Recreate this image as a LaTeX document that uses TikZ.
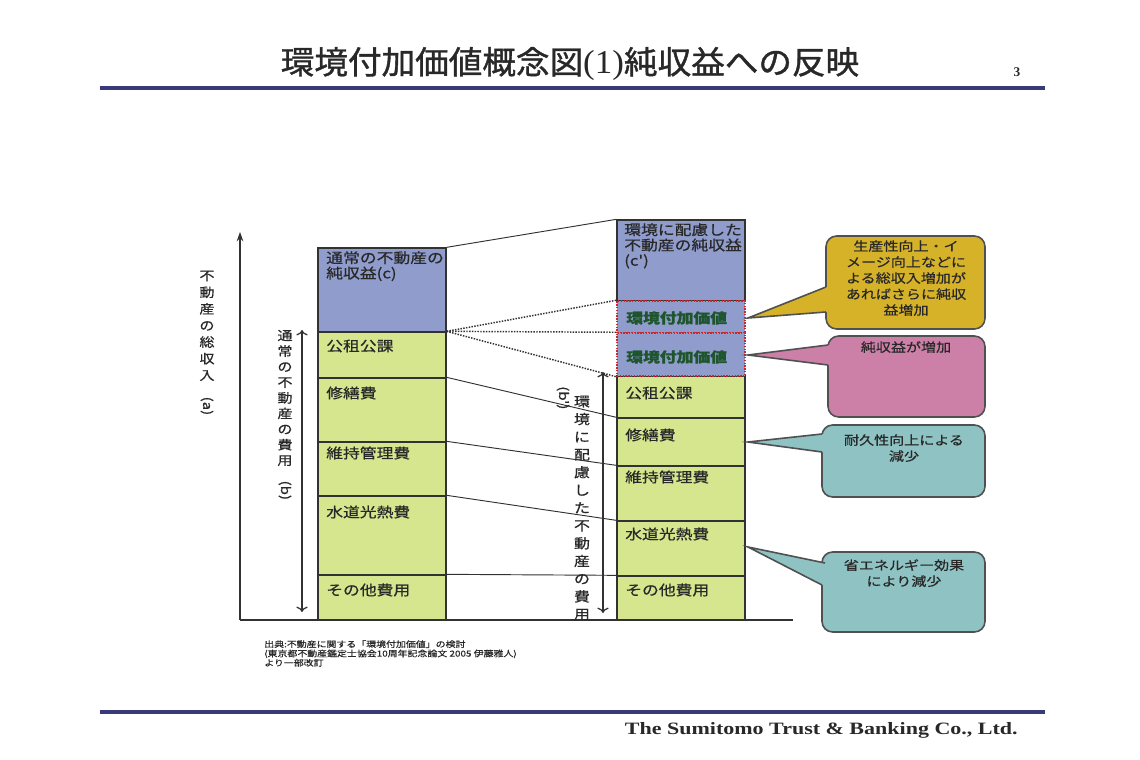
\documentclass[tikz,border=0pt]{standalone}
\usepackage{fontspec}
\setmainfont{Liberation Serif}
\newfontfamily\jp[FakeStretch=1.2,FakeBold=0.6]{Noto Sans CJK JP}
\newfontfamily\jptitle[FakeStretch=1.05,FakeBold=1.2]{Noto Sans CJK JP}
\newfontfamily\ttlserif[FakeStretch=1.05]{Liberation Serif}
\newfontfamily\ftr[FakeStretch=1.27]{Liberation Serif}
\usetikzlibrary{arrows.meta,fit}
\definecolor{navyC}{RGB}{58,58,122}
\definecolor{lineC}{RGB}{50,50,50}
\definecolor{txtC}{RGB}{40,40,40}
\definecolor{blueC}{RGB}{143,156,204}
\definecolor{greenC}{RGB}{214,230,142}
\definecolor{gtxtC}{RGB}{30,85,45}
\definecolor{redC}{RGB}{200,40,40}
\definecolor{goldC}{RGB}{214,178,40}
\definecolor{pinkC}{RGB}{204,128,168}
\definecolor{tealC}{RGB}{143,195,195}
\definecolor{callC}{RGB}{80,80,80}
\tikzset{
  segB/.style={draw=lineC, line width=1pt, fill=blueC, inner sep=0pt},
  segG/.style={draw=lineC, line width=1pt, fill=greenC, inner sep=0pt},
  segV/.style={draw=redC, line width=1.1pt, densely dotted, fill=blueC, inner sep=0pt},
  conn/.style={draw=lineC, line width=0.7pt},
  dconn/.style={draw=lineC, line width=1.1pt, densely dotted},
  axisline/.style={draw=lineC, line width=0.9pt},
  txt/.style={font=\jp\fontsize{10.5}{11.5}\selectfont, text=txtC, inner sep=0pt, anchor=west},
  gtxt/.style={font=\jp\bfseries\fontsize{10.5}{11.5}\selectfont, text=gtxtC, inner sep=0pt, anchor=west},
  callbox/.style={draw=callC, line width=1.2pt, rounded corners=8pt, inner sep=0pt},
  ctxt/.style={font=\jp\fontsize{9.4}{12}\selectfont, align=center, text=txtC, inner sep=0pt, anchor=north},
  vlab/.style={align=center, inner sep=0pt, text=txtC},
  rule/.style={draw=navyC, line width=3pt},
}
\begin{document}
\begin{tikzpicture}[x=0.75pt,y=-0.75pt]
\useasboundingbox[fill=white] (0,0) rectangle (1140,760);

% title and rules
\node[font=\jptitle\fontsize{24}{28}\selectfont, text=txtC, inner sep=0pt] (title) at (570,64) {環境付加価値概念図{\ttlserif\fontsize{25}{28}\selectfont(1)}純収益への反映};
\node[font=\bfseries\fontsize{10}{12}\selectfont, text=txtC, inner sep=0pt] (pageno) at (1017,72) {3};
\coordinate (r1a) at (100,88); \coordinate (r1b) at (1045,88);
\draw[rule] (r1a) -- (r1b);
\coordinate (r2a) at (100,712); \coordinate (r2b) at (1045,712);
\draw[rule] (r2a) -- (r2b);
\node[font=\ftr\bfseries\fontsize{13}{15}\selectfont, text=txtC, inner sep=0pt, anchor=east] (footer) at (1018,730) {The Sumitomo Trust \& Banking Co., Ltd.};

% axes
\coordinate (O) at (240,620); \coordinate (Ytop) at (240,232); \coordinate (Xend) at (793,620);
\draw[axisline, -{Stealth[length=7pt,width=5pt]}] (O) -- (Ytop);
\draw[axisline] (O) -- (Xend);

% left bar
\node[segB, fit={(318,248)(446,332)}] (L0) {};
\node[segG, fit={(318,332)(446,378)}] (L1) {};
\node[segG, fit={(318,378)(446,442)}] (L2) {};
\node[segG, fit={(318,442)(446,496)}] (L3) {};
\node[segG, fit={(318,496)(446,575)}] (L4) {};
\node[segG, fit={(318,575)(446,620)}] (L5) {};

% right bar
\node[segG, fit={(617,376)(745,418)}] (R1) {};
\node[segG, fit={(617,418)(745,466)}] (R2) {};
\node[segG, fit={(617,466)(745,521)}] (R3) {};
\node[segG, fit={(617,521)(745,576)}] (R4) {};
\node[segG, fit={(617,576)(745,620)}] (R5) {};
\node[segB, fit={(617,220)(745,301)}] (R0) {};
\node[segV, fit={(617,301)(745,333)}] (RV1) {};
\node[segV, fit={(617,333)(745,376)}] (RV2) {};

% left bar texts
\node[txt, align=left, anchor=north west] (L0t) at (326,251) {通常の不動産の\\純収益(c)};
\node[txt] (L1t) at (326,346) {公租公課};
\node[txt] (L2t) at (326,393) {修繕費};
\node[txt] (L3t) at (326,453) {維持管理費};
\node[txt] (L4t) at (326,512) {水道光熱費};
\node[txt] (L5t) at (326,590) {その他費用};

% right bar texts
\node[txt, align=left, anchor=north west] (R0t) at (624,223) {環境に配慮した\\不動産の純収益\\(c')};
\node[gtxt] (RV1t) at (626,318) {環境付加価値};
\node[gtxt] (RV2t) at (626,357) {環境付加価値};
\node[txt] (R1t) at (625,393) {公租公課};
\node[txt] (R2t) at (625,435) {修繕費};
\node[txt] (R3t) at (625,477) {維持管理費};
\node[txt] (R4t) at (625,534) {水道光熱費};
\node[txt] (R5t) at (625,590) {その他費用};

% connectors between bars
\draw[conn] (L0.north east) -- (R0.north west);
\draw[dconn] (L1.north east) -- (RV1.north west);
\draw[dconn] (L1.north east) -- (RV2.north west);
\draw[dconn] (L1.north east) -- (RV2.south west);
\draw[conn] (L2.north east) -- (R2.north west);
\draw[conn] (L3.north east) -- (R3.north west);
\draw[conn] (L4.north east) -- (R4.north west);
\draw[conn] (L5.north east) -- (R5.north west);

% inner double arrows
\coordinate (b1t) at (302,330); \coordinate (b1b) at (302,612);
\draw[axisline, {To[length=4pt]}-{To[length=4pt]}] (b1t) -- (b1b);
\coordinate (b2t) at (603,372); \coordinate (b2b) at (603,613);
\draw[axisline, {To[length=4pt]}-{To[length=4pt]}] (b2t) -- (b2b);

% vertical labels
\node[vlab, font=\jp\fontsize{9.4}{12.45}\selectfont] (vA) at (207,343) {不\\動\\産\\の\\総\\収\\入\\\rotatebox{-90}{(a)}};
\node[vlab, font=\jp\fontsize{9.4}{11.7}\selectfont] (vB) at (285,415) {通\\常\\の\\不\\動\\産\\の\\費\\用\\\rotatebox{-90}{(b)}};
\node[vlab, font=\jp\fontsize{10}{13.3}\selectfont] (vC) at (582,508) {環\\境\\に\\配\\慮\\し\\た\\不\\動\\産\\の\\費\\用};
\node[vlab, font=\jp\fontsize{9.4}{12}\selectfont, anchor=north] (vCb) at (563,386) {\rotatebox{-90}{(b')}};

% callout 1 (gold)
\node[callbox, fill=goldC, fit={(826,236)(985,329)}] (C1) {};
\coordinate (C1tip) at (748,318);
\fill[goldC] (C1tip) -- (826,287) -- (831,287) -- (831,312) -- (826,312) -- cycle;
\draw[draw=callC, line width=1.2pt] (826,287) -- (C1tip) -- (826,312);
\node[ctxt] (C1t) at (906,240) {生産性向上・イ\\メージ向上などに\\よる総収入増加が\\あればさらに純収\\益増加};

% callout 2 (pink)
\node[callbox, fill=pinkC, fit={(828,336)(985,417)}] (C2) {};
\coordinate (C2tip) at (748,355);
\fill[pinkC] (C2tip) -- (828,345) -- (833,345) -- (833,365) -- (828,365) -- cycle;
\draw[draw=callC, line width=1.2pt] (828,345) -- (C2tip) -- (828,365);
\node[ctxt] (C2t) at (906,341) {純収益が増加};

% callout 3 (teal)
\node[callbox, fill=tealC, fit={(822,425)(985,497)}] (C3) {};
\coordinate (C3tip) at (748,442);
\fill[tealC] (C3tip) -- (822,434) -- (827,434) -- (827,452) -- (822,452) -- cycle;
\draw[draw=callC, line width=1.2pt] (822,434) -- (C3tip) -- (822,452);
\node[ctxt] (C3t) at (904,434) {耐久性向上による\\減少};

% callout 4 (teal)
\node[callbox, fill=tealC, fit={(822,552)(985,632)}] (C4) {};
\coordinate (C4tip) at (748,547);
\fill[tealC] (C4tip) -- (824,563) -- (829,563) -- (829,585) -- (822,585) -- cycle;
\draw[draw=callC, line width=1.2pt] (825,563) -- (C4tip) -- (822,585);
\node[ctxt] (C4t) at (904,559) {省エネルギー効果\\により減少};

% source note
\node[font=\jp\fontsize{6.2}{7}\selectfont, text=txtC, align=left, inner sep=0pt, anchor=north west] (src) at (264,640) {出典:不動産に関する「環境付加価値」の検討\\(東京都不動産鑑定士協会10周年記念論文 2005 伊藤雅人)\\より一部改訂};
\end{tikzpicture}
\end{document}
